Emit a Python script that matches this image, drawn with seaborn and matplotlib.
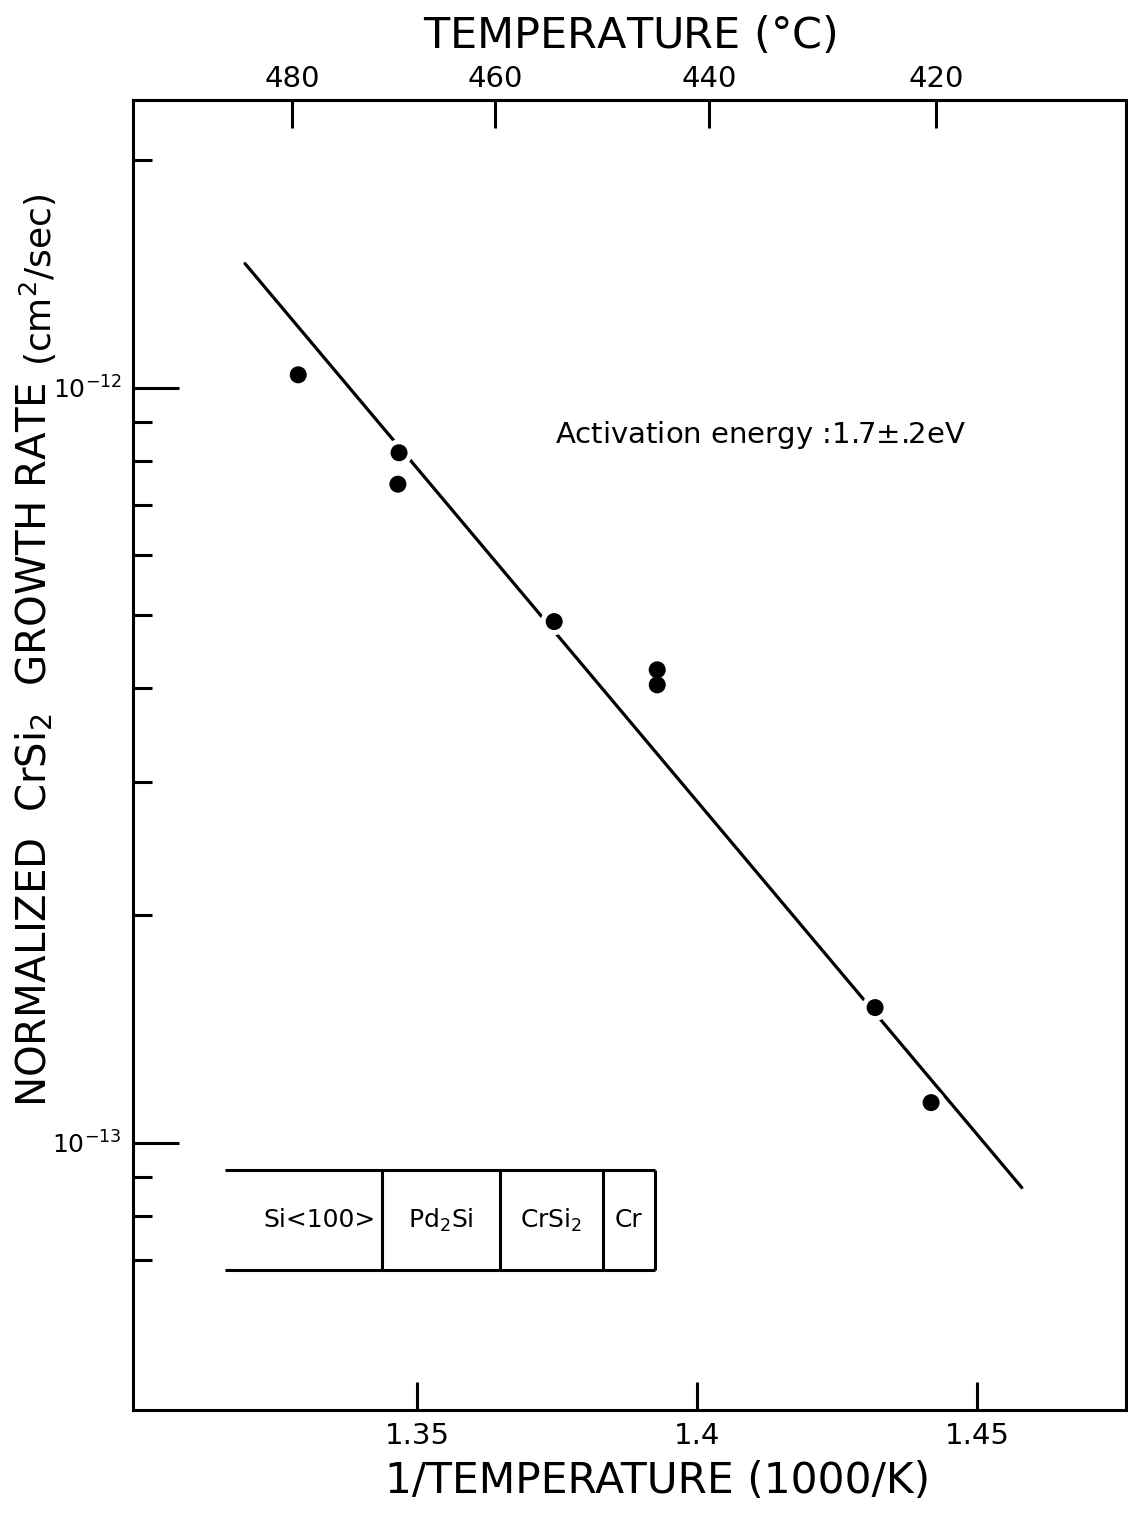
import numpy as np
import pandas as pd
import matplotlib
matplotlib.use("Agg")
import matplotlib.pyplot as plt
from matplotlib import font_manager
from matplotlib.ticker import FixedLocator, NullFormatter
import seaborn as sns

# Measured growth rates (1/T in 1000/K, rate in cm^2/sec)
inv_temp = [1.3288, 1.3468, 1.3466, 1.3745, 1.3929, 1.3929, 1.4318, 1.4418]
growth_rate = [1.04e-12, 8.2e-13, 7.45e-13, 4.9e-13, 4.23e-13, 4.04e-13, 1.51e-13, 1.13e-13]

# Arrhenius fit line end points (Ea = 1.7 eV)
fit_inv_temp = [1.3193, 1.4580]
fit_rate = [1.46e-12, 8.72e-14]

# Layer stack labels for the sample structure sketch
layers = ["Si<100>", "Pd$_2$Si", "CrSi$_2$", "Cr"]

top_ticks_c = [480, 460, 440, 420]

sns.set_theme(style="ticks")
names = {f.name for f in font_manager.fontManager.ttflist}
main_font = "Liberation Sans Narrow" if "Liberation Sans Narrow" in names else "DejaVu Sans"
plt.rcParams["font.family"] = [main_font, "DejaVu Sans"]
plt.rcParams["mathtext.fontset"] = "custom"
plt.rcParams["mathtext.rm"] = main_font
plt.rcParams["mathtext.it"] = main_font
plt.rcParams["mathtext.default"] = "rm"
plt.rcParams["axes.linewidth"] = 2.2
plt.rcParams["text.color"] = "black"
plt.rcParams["axes.labelcolor"] = "black"
plt.rcParams["xtick.color"] = "black"
plt.rcParams["ytick.color"] = "black"

fig = plt.figure(figsize=(11.28, 15.15), dpi=100)
fig.patch.set_facecolor("white")
ax = fig.add_axes([133 / 1128, 1 - 1410 / 1515, (1126 - 133) / 1128, (1410 - 100) / 1515])
ax.set_facecolor("white")

df_pts = pd.DataFrame({"x": inv_temp, "y": growth_rate})
df_fit = pd.DataFrame({"x": fit_inv_temp, "y": fit_rate})

sns.lineplot(data=df_fit, x="x", y="y", ax=ax, color="black", linewidth=2.3, zorder=2)
# white halos break the fit line around each point
sns.scatterplot(data=df_pts, x="x", y="y", ax=ax, s=380, color="white",
                edgecolor="none", zorder=3, legend=False)
sns.scatterplot(data=df_pts, x="x", y="y", ax=ax, s=150, color="black",
                edgecolor="none", zorder=4, legend=False)

ax.set_yscale("log")
ax.set_xlim(1.2993, 1.4766)
ax.set_ylim(10 ** -13.354, 10 ** -11.619)

ax.set_xticks([1.35, 1.40, 1.45])
ax.set_xticklabels(["1.35", "1.4", "1.45"])
ax.set_yticks([1e-13, 1e-12])
ax.set_yticklabels(["$10^{-13}$", "$10^{-12}$"])
minor = [7e-14, 8e-14, 9e-14] + [k * 1e-13 for k in range(2, 10)] + [2e-12]
ax.yaxis.set_minor_locator(FixedLocator(minor))
ax.yaxis.set_minor_formatter(NullFormatter())
ax.xaxis.set_minor_locator(FixedLocator([]))

ax.tick_params(axis="x", which="major", direction="in", length=20, width=2.2,
               labelsize=21, pad=9, top=False)
ax.tick_params(axis="y", which="major", direction="in", length=33, width=2.2,
               labelsize=18, pad=8, right=False)
ax.tick_params(axis="y", which="minor", direction="in", length=14, width=2.2, right=False)
for s in ax.spines.values():
    s.set_visible(True)
    s.set_color("black")
    s.set_linewidth(2.2)


def inv_to_c(x):
    x = np.asarray(x, dtype=float)
    with np.errstate(divide="ignore", invalid="ignore"):
        return 1000.0 / x - 273.15


def c_to_inv(t):
    t = np.asarray(t, dtype=float)
    with np.errstate(divide="ignore", invalid="ignore"):
        return 1000.0 / (t + 273.15)


secax = ax.secondary_xaxis("top", functions=(inv_to_c, c_to_inv))
secax.set_xticks(top_ticks_c)
secax.set_xticklabels([str(t) for t in top_ticks_c])
secax.tick_params(axis="x", which="major", direction="in", length=20, width=2.2,
                  labelsize=21, pad=5)
secax.tick_params(axis="x", which="minor", length=0)
secax.set_xlabel("TEMPERATURE ($\\degree$C)", fontsize=31, labelpad=12)

ax.set_xlabel("1/TEMPERATURE (1000/K)", fontsize=30.5)
ax.xaxis.set_label_coords((658 - 133) / 993, -(1460 - 1410) / 1310)
ax.set_ylabel("")

fig.text(35 / 1128, 1 - 745 / 1515, "NORMALIZED  CrSi$_2$  GROWTH RATE", rotation=90,
         ha="center", va="center", fontsize=29)
fig.text(38 / 1128, 1 - 280 / 1515, "(cm$^2$/sec)", rotation=90,
         ha="center", va="center", fontsize=26)

ax.text(0.425, 0.744, "Activation energy :1.7$\\pm$.2eV", transform=ax.transAxes,
        fontsize=21, ha="left", va="center")

# layer structure sketch
bx0, bx1 = (225 - 133) / 993, (655 - 133) / 993
by0, by1 = (1410 - 1270) / 1310, (1410 - 1170) / 1310
dividers = [(382 - 133) / 993, (500 - 133) / 993, (603 - 133) / 993, bx1]
kw = dict(transform=ax.transAxes, color="black", linewidth=2.2, solid_capstyle="butt")
ax.plot([bx0, bx1], [by0, by0], **kw)
ax.plot([bx0, bx1], [by1, by1], **kw)
for d in dividers:
    ax.plot([d, d], [by0, by1], **kw)
ymid = (by0 + by1) / 2
ax.text(dividers[0] - 0.006, ymid, layers[0], transform=ax.transAxes, fontsize=18,
        ha="right", va="center")
for i in range(1, 4):
    cx = (dividers[i - 1] + dividers[i]) / 2
    ax.text(cx, ymid, layers[i], transform=ax.transAxes, fontsize=18,
            ha="center", va="center")

fig.savefig("out.png", dpi=100, facecolor="white")
